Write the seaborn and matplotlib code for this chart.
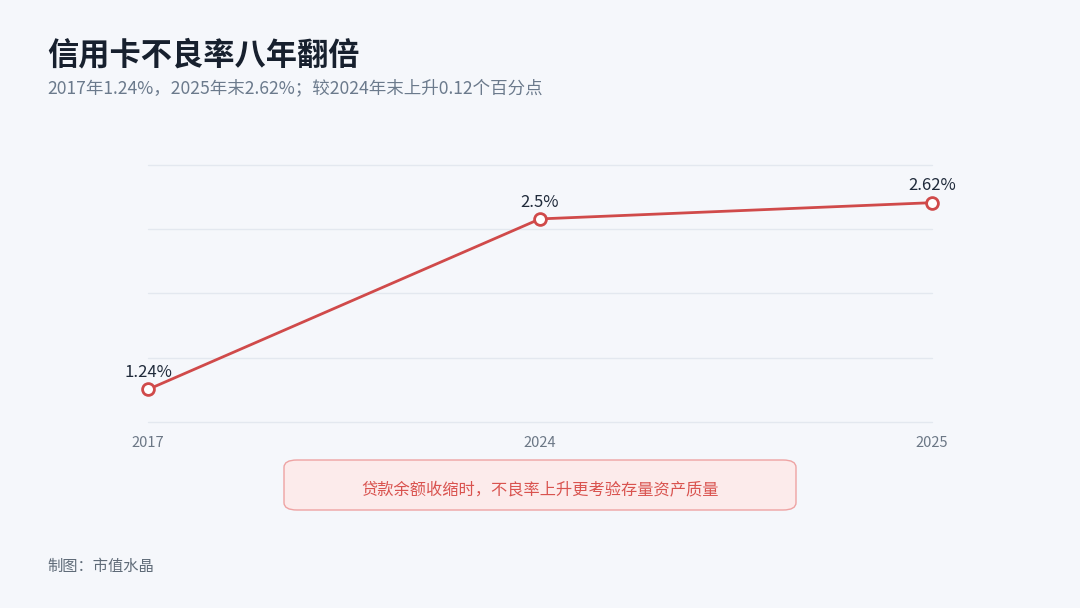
import pandas as pd
import matplotlib.pyplot as plt
import seaborn as sns
import numpy as np
from matplotlib.patches import FancyBboxPatch

# 数据
years = ['2017', '2024', '2025']
npl_rate = [1.24, 2.5, 2.62]
point_labels = ['1.24%', '2.5%', '2.62%']

title = '信用卡不良率八年翻倍'
subtitle = '2017年1.24%，2025年末2.62%；较2024年末上升0.12个百分点'
note = '贷款余额收缩时，不良率上升更考验存量资产质量'
source = '制图：市值水晶'

bg = '#f5f7fb'
red = '#d04a4a'

sns.set_theme(style='white')
plt.rcParams['font.family'] = ['Noto Sans CJK SC', 'DejaVu Sans']
plt.rcParams['axes.unicode_minus'] = False

df = pd.DataFrame({'year': years, 'rate': npl_rate})

fig = plt.figure(figsize=(10.8, 6.08), dpi=100, facecolor=bg)
ax = fig.add_axes([0.137, 0.306, 0.726, 0.423])
ax.set_facecolor(bg)

sns.lineplot(data=df, x='year', y='rate', ax=ax, color=red, linewidth=2.0,
             marker='o', markersize=8.5, markerfacecolor='white',
             markeredgecolor=red, markeredgewidth=2.0, zorder=3)
for ln in ax.lines:
    ln.set_clip_on(False)

ax.set_xlim(0, 2)
ax.set_ylim(1.0, 2.9)
ax.set_yticks(np.linspace(1.0, 2.9, 5))
ax.yaxis.grid(True, color='#e3e8ef', linewidth=1)
for gl in ax.get_ygridlines():
    gl.set_clip_on(False)
ax.set_yticklabels([])
ax.tick_params(axis='y', length=0)
ax.tick_params(axis='x', length=0, labelsize=10.5, labelcolor='#6b7785', pad=10)
for s in ax.spines.values():
    s.set_visible(False)
ax.set_xlabel('')
ax.set_ylabel('')

for i, (v, lab) in enumerate(zip(npl_rate, point_labels)):
    ax.annotate(lab, (i, v), xytext=(0, 6), textcoords='offset points',
                ha='center', va='bottom', fontsize=12, color='#1f2a3a')

fig.text(0.044, 0.908, title, fontsize=22.5, fontweight='bold', color='#17202e',
         va='center', ha='left')
fig.text(0.044, 0.855, subtitle, fontsize=12.6, color='#6b7a8c',
         va='center', ha='left')

box = FancyBboxPatch((284 / 1080, 1 - 510 / 608), 512 / 1080, 50 / 608,
                     boxstyle='round,pad=0,rounding_size=0.012',
                     transform=fig.transFigure, facecolor='#fcebeb',
                     edgecolor='#eea3a3', linewidth=1)
fig.patches.append(box)
fig.text(540 / 1080, 1 - 490 / 608, note, fontsize=11.7, color='#d9534f',
         ha='center', va='center')

fig.text(0.044, 1 - 566 / 608, source, fontsize=11, color='#5f6b78',
         ha='left', va='center')

fig.savefig('out.png', dpi=100, facecolor=bg)
